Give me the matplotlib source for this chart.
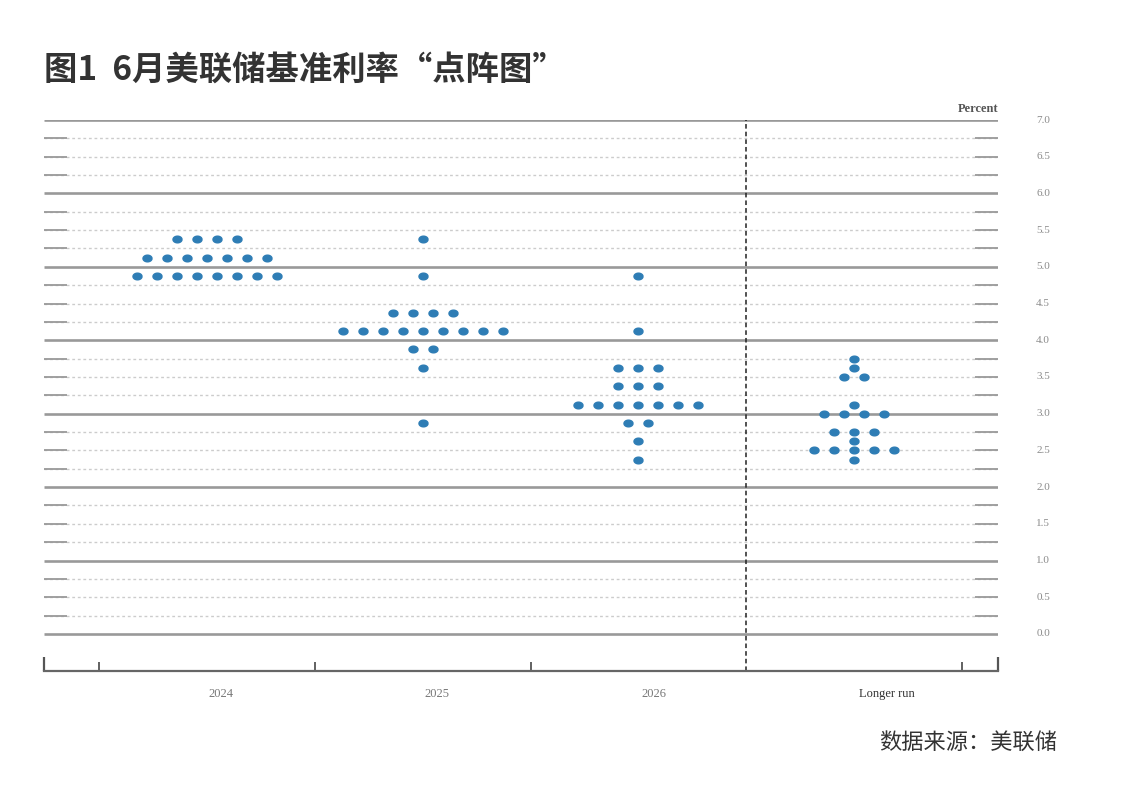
import numpy as np
import matplotlib.pyplot as plt
from matplotlib.path import Path

plt.rcParams['font.family'] = ['Noto Sans CJK SC', 'DejaVu Sans']

# FOMC dot plot, June 2024 (midpoints of target ranges, percent)
groups = ['2024', '2025', '2026', 'Longer run']
rates_2024 = [5.375, 5.125, 4.875]
counts_2024 = [4, 7, 8]
rates_2025 = [5.375, 4.875, 4.375, 4.125, 3.875, 3.625, 2.875]
counts_2025 = [1, 1, 4, 9, 2, 1, 1]
rates_2026 = [4.875, 4.125, 3.625, 3.375, 3.125, 2.875, 2.625, 2.375]
counts_2026 = [1, 1, 3, 3, 7, 2, 1, 1]
rates_longer = [3.75, 3.625, 3.5, 3.125, 3.0, 2.75, 2.625, 2.5, 2.375]
counts_longer = [1, 1, 2, 1, 4, 3, 1, 5, 1]
ytick_labels = ['0.0', '0.5', '1.0', '1.5', '2.0', '2.5', '3.0', '3.5',
                '4.0', '4.5', '5.0', '5.5', '6.0', '6.5', '7.0']

all_rates = [rates_2024, rates_2025, rates_2026, rates_longer]
all_counts = [counts_2024, counts_2025, counts_2026, counts_longer]

# slightly wide ellipse marker (the original image is stretched)
t = np.linspace(0, 2 * np.pi, 40)
ell = Path(np.column_stack([1.35 * np.cos(t), np.sin(t)]))

fig = plt.figure(figsize=(11.22, 8.06), dpi=100)
ax = fig.add_axes([44 / 1122, 1 - 671 / 806, (998 - 44) / 1122, (671 - 120) / 806])
x0, x1 = -0.756, 3.667
ymin, ymax = -0.504, 7.0
ax.set_xlim(x0, x1)
ax.set_ylim(ymin, ymax)
for s in ['top', 'left', 'right']:
    ax.spines[s].set_visible(False)
ax.spines['bottom'].set_color('#666666')
ax.spines['bottom'].set_linewidth(1.6)
ax.set_xticks([])
ax.set_yticks([])

# horizontal rules
seg = 23 / 215.7
for v in np.arange(0, 7.01, 0.25):
    if abs(v - round(v)) < 1e-6:
        ax.hlines(v, x0, x1, color='#999999', lw=1.9, zorder=1)
    else:
        ax.hlines(v, x0, x1, color='#cccccc', lw=1.0, linestyles=(0, (2, 2)), zorder=1)
        ax.hlines(v, x0, x0 + seg, color='#999999', lw=1.3, zorder=1)
        ax.hlines(v, x1 - seg, x1, color='#999999', lw=1.3, zorder=1)

# right-hand percent labels
for i, lab in enumerate(ytick_labels):
    ax.text(3.876, i * 0.5, lab, ha='center', va='center', fontsize=8,
            color='#8a8a8a', family=['Liberation Serif'], clip_on=False)
ax.text(x1, 7.15, 'Percent', ha='right', va='center', fontsize=9, fontweight='bold',
        color='#555555', family=['Liberation Serif'], clip_on=False)

# bottom axis ticks
for xt in [-0.5, 0.5, 1.5, 3.5]:
    ax.vlines(xt, ymin, ymin + 9 / 73.43, color='#555555', lw=1.3, clip_on=False)
for xt in [x0, x1]:
    ax.vlines(xt, ymin, ymin + 14 / 73.43, color='#555555', lw=1.6, clip_on=False)
ax.vlines(2.5, ymin, ymax, color='#222222', lw=1.1, linestyles=(0, (3, 2)), zorder=2)

# group labels
label_x = [0.065, 1.066, 2.07, 3.15]
for lx, g in zip(label_x, groups):
    ax.text(lx, ymin - 23 / 73.43, g, ha='center', va='center', fontsize=9,
            color='#333333' if g == 'Longer run' else '#777777',
            family=['Liberation Serif'], clip_on=False)

# dots
dx = 20 / 215.7
for gi, (rates, counts) in enumerate(zip(all_rates, all_counts)):
    for r, c in zip(rates, counts):
        xs = gi + (np.arange(c) - (c - 1) / 2) * dx
        ax.plot(xs, [r] * c, linestyle='none', marker=ell, markersize=6.5,
                color='#2e7db5', zorder=3)

fig.text(44 / 1122, 1 - 70 / 806, '图1  6月美联储基准利率“点阵图”', ha='left', va='center',
         fontsize=24, fontweight='bold', color='#333333')
fig.text(1057 / 1122, 1 - 742 / 806, '数据来源：美联储', ha='right', va='center',
         fontsize=16, color='#333333')

fig.savefig('out.png', dpi=100)
